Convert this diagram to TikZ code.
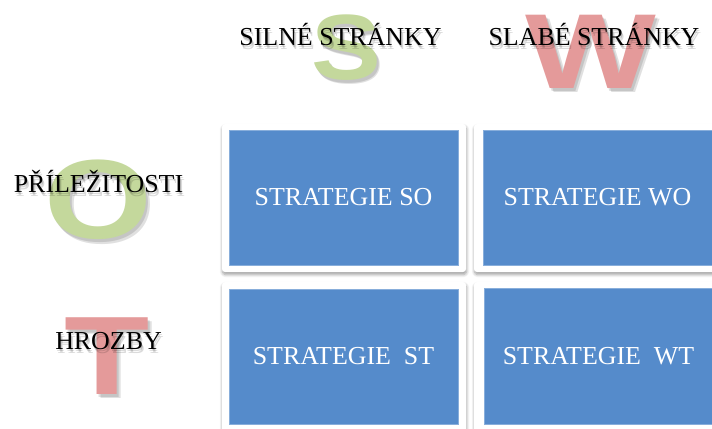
\documentclass[tikz,border=0pt]{standalone}
\usepackage{fontspec}
\setmainfont{Liberation Serif}
\newfontfamily\letterfont{Liberation Sans}
\usetikzlibrary{shadows.blur}
\definecolor{boxblue}{RGB}{85,139,203}
\definecolor{sgreen}{RGB}{196,216,156}
\definecolor{wred}{RGB}{228,154,154}
\tikzset{
  frame/.style={fill=white, rounded corners=3bp,
    blur shadow={shadow xshift=0.5bp, shadow yshift=-2.5bp, shadow blur steps=6,
      shadow blur radius=3bp, shadow opacity=40}},
  bluebox/.style={fill=boxblue, draw=boxblue!70!white, line width=0.5bp, text=white,
    font=\fontsize{26}{30}\selectfont, inner sep=0pt, minimum width=229bp},
  header/.style={font=\fontsize{26}{30}\selectfont, anchor=base, inner sep=0pt},
  hshadow/.style={header, text=black, opacity=0.14},
  bigletter/.style={inner sep=0pt, font=\letterfont\bfseries},
  lshadow/.style={bigletter, text=black, opacity=0.12},
}
\begin{document}
\begin{tikzpicture}[x=1bp, y=-1bp]
\useasboundingbox (0,0) rectangle (712,428);
% big letters (shadows first)
\foreach \dx/\dy in {2/3,3.5/4.5} {
  \node[lshadow, font=\letterfont\bfseries\fontsize{93}{100}\selectfont] at (346+\dx,47.5+\dy) {\scalebox{1.13}[1]{S}};
  \node[lshadow, font=\letterfont\bfseries\fontsize{107}{110}\selectfont] at (591+\dx,51.5+\dy) {\scalebox{1.3}[1]{W}};
  \node[lshadow, font=\letterfont\bfseries\fontsize{113}{115}\selectfont] at (98.5+\dx,200+\dy) {\scalebox{1.23}[1]{O}};
  \node[lshadow, font=\letterfont\bfseries\fontsize{112}{115}\selectfont] at (107.5+\dx,356+\dy) {\scalebox{1.25}[1]{T}};
}
\node[bigletter, text=sgreen, font=\letterfont\bfseries\fontsize{93}{100}\selectfont] (bigS) at (346,47.5) {\scalebox{1.13}[1]{S}};
\node[bigletter, text=wred, font=\letterfont\bfseries\fontsize{107}{110}\selectfont] (bigW) at (591,51.5) {\scalebox{1.3}[1]{W}};
\node[bigletter, text=sgreen, font=\letterfont\bfseries\fontsize{113}{115}\selectfont] (bigO) at (98.5,200) {\scalebox{1.23}[1]{O}};
\node[bigletter, text=wred, font=\letterfont\bfseries\fontsize{112}{115}\selectfont] (bigT) at (107.5,356) {\scalebox{1.25}[1]{T}};
% header shadows
\foreach \dx/\dy in {1/2.5,2/4} {
  \node[hshadow] at (340.5+\dx,45+\dy) {SILNÉ STRÁNKY};
  \node[hshadow] at (594+\dx,45+\dy) {SLABÉ STRÁNKY};
  \node[hshadow] at (98.5+\dx,192+\dy) {PŘÍLEŽITOSTI};
  \node[hshadow] at (108.5+\dx,349+\dy) {HROZBY};
}
\node[header] (hS) at (340.5,45) {SILNÉ STRÁNKY};
\node[header] (hW) at (594,45) {SLABÉ STRÁNKY};
\node[header] (hO) at (98.5,192) {PŘÍLEŽITOSTI};
\node[header] (hT) at (108.5,349) {HROZBY};
% frames
\path[frame] (222,124) rectangle (466,272);
\path[frame] (474,124) rectangle (730,272);
\path[frame] (222,282) rectangle (466,445);
\path[frame] (474,282) rectangle (730,445);
% blue boxes
\node[bluebox, minimum width=229bp, minimum height=135bp] (so) at (343.5,197.5) {STRATEGIE SO};
\node[bluebox, minimum width=229bp, minimum height=135bp] (wo) at (597.5,197.5) {STRATEGIE WO};
\node[bluebox, minimum width=229bp, minimum height=135bp] (st) at (343.5,356.5) {STRATEGIE\ \ ST};
\node[bluebox, minimum width=229bp, minimum height=136bp] (wt) at (598.5,356) {STRATEGIE\ \ WT};
\end{tikzpicture}
\end{document}
